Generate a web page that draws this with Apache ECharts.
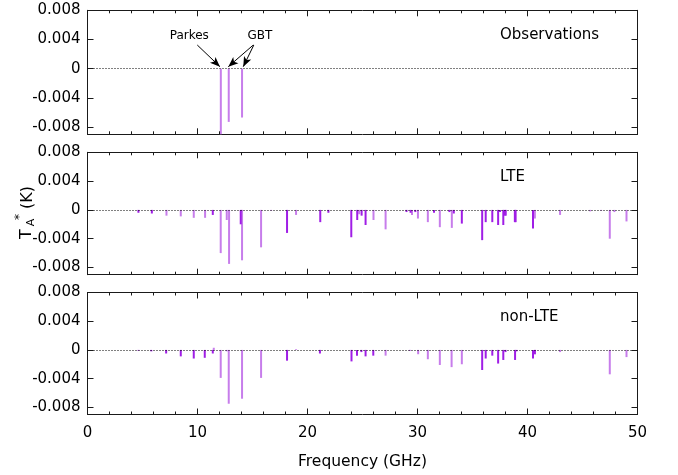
<!DOCTYPE html>
<html>
<head>
<meta charset="utf-8">
<script src="https://cdn.jsdelivr.net/npm/echarts@6/dist/echarts.min.js"></script>
<style>html,body{margin:0;padding:0;background:#fff}#c{width:678px;height:475px}</style>
</head>
<body>
<div id="c"></div>
<script>
// ---- data: [frequency (GHz), T_A* (K)] ----
var obsLines = [[12.12, -0.0095], [12.84, -0.0073], [14.05, -0.0067]];

var lteLight = [[7.18,-0.0008],[8.48,-0.0009],[9.66,-0.0011],[10.69,-0.0011],[12.11,-0.0060],[12.66,-0.0014],
  [12.87,-0.0075],[14.05,-0.0070],[15.78,-0.0052],[16.7,-0.0001],[18.96,-0.0007],[24.7,-0.0006],[26.0,-0.0014],
  [27.1,-0.0027],[29.5,-0.0007],[30.04,-0.0012],[30.94,-0.0017],[32.03,-0.0024],[33.12,-0.0025],[40.67,-0.0012],
  [42.96,-0.0007],[45.7,-0.0002],[46.7,-0.0001],[47.48,-0.0040],[47.9,-0.0003],[49.0,-0.0016]];
var lteDark = [[4.63,-0.0004],[5.85,-0.0005],[11.39,-0.0007],[13.93,-0.0020],[18.14,-0.0032],[21.16,-0.0017],
  [21.9,-0.0004],[23.98,-0.0038],[24.52,-0.0014],[24.92,-0.0008],[25.28,-0.0021],[29.0,-0.0003],[29.37,-0.0004],
  [29.8,-0.0003],[31.5,-0.0004],[32.9,-0.0003],[33.3,-0.0005],[34.03,-0.0019],[35.88,-0.0042],[36.2,-0.0017],
  [36.8,-0.0017],[37.33,-0.0021],[37.5,-0.0003],[37.8,-0.0021],[37.92,-0.0008],[38.02,-0.0008],[38.85,-0.0017],
  [38.92,-0.0017],[40.5,-0.0026]];

var nlteLight = [[11.48,0.0003],[12.11,-0.0039],[12.66,-0.0002],[12.84,-0.0075],[14.05,-0.0068],[15.78,-0.0039],
  [18.96,0.0001],[27.1,-0.0008],[30.06,-0.0006],[30.94,-0.0013],[32.03,-0.0021],[33.1,-0.0024],[34.03,-0.0020],
  [40.67,-0.0006],[42.96,-0.0003],[47.48,-0.0034],[49.0,-0.0010]];
var nlteDark = [[4.63,-0.0001],[5.8,-0.0002],[7.15,-0.0005],[8.48,-0.0009],[9.66,-0.0012],[10.66,-0.0011],
  [11.39,-0.0005],[18.14,-0.0015],[21.13,-0.0005],[24.0,-0.0016],[24.5,-0.0008],[24.9,-0.0003],[25.28,-0.0009],
  [25.98,-0.0008],[29.3,-0.0001],[35.88,-0.0028],[36.2,-0.0012],[36.8,-0.0008],[37.33,-0.0019],[37.8,-0.0014],
  [38.0,-0.0003],[38.87,-0.0014],[39.0,-0.0002],[40.5,-0.0012],[40.67,-0.0006]];

// axes and tick values
var X_MIN = 0, X_MAX = 50, Y_MIN = -0.009, Y_MAX = 0.008;
var xMajorTicks = [0, 10, 20, 30, 40, 50];
var xMinorTicks = [2, 4, 6, 8, 12, 14, 16, 18, 22, 24, 26, 28, 32, 34, 36, 38, 42, 44, 46, 48];
var yTicks = [-0.008, -0.004, 0, 0.004, 0.008];
var xTickStep = 10;
var panelNames = ['Observations', 'LTE', 'non-LTE'];
// annotation arrows: [start, end] in data coordinates of panel 1
var arrows = [[[9.98, 0.00324], [12.04, 0.00027]],
              [[15.07, 0.00324], [12.80, 0.00027]],
              [[15.12, 0.00324], [14.16, 0.00027]]];

var LIGHT = '#c77deb', DARK = '#a01ee6', AX = '#1a1a1a';
var FONT = 'DejaVu Sans';
var HIDDEN_SPLIT = {show: true, lineStyle: {color: '#000', opacity: 0}};
var PLOT_LEFT = 87.5, PLOT_RIGHT = 40.5, PLOT_WIDTH = 678 - 87.5 - 40.5;

var panelRects = [
  {top: 10.3, height: 124},
  {top: 152.3, height: 122.4},
  {top: 292.5, height: 122}
];

// each panel uses two overlapping grids: one for bottom/left axes, one for top/right axes
var grids = [], xAxes = [], yAxes = [];
panelRects.forEach(function (r, i) {
  [0, 1].forEach(function (j) {
    var gi = i * 2 + j;
    grids.push({left: PLOT_LEFT, right: PLOT_RIGHT, top: r.top, height: r.height, containLabel: false, outerBoundsMode: 'none'});
    var showX = (i === 2 && j === 0);
    xAxes.push({
      type: 'value', gridIndex: gi, position: j === 0 ? 'bottom' : 'top', min: X_MIN, max: X_MAX, interval: xTickStep,
      axisLine: {show: true, onZero: false, lineStyle: {color: AX, width: 1}},
      axisTick: {show: false}, minorTick: {show: false},
      splitLine: HIDDEN_SPLIT,
      axisLabel: {show: showX, margin: 11, color: '#000', fontSize: 15, fontFamily: FONT},
      name: showX ? 'Frequency (GHz)' : '',
      nameLocation: 'middle', nameGap: 39,
      nameTextStyle: {color: '#000', fontSize: 15.5, fontFamily: FONT}
    });
    yAxes.push({
      type: 'value', gridIndex: gi, position: j === 0 ? 'left' : 'right', min: Y_MIN, max: Y_MAX,
      axisLine: {show: true, onZero: false, lineStyle: {color: AX, width: 1}},
      axisTick: {show: false},
      splitLine: HIDDEN_SPLIT,
      axisLabel: {show: j === 0, customValues: yTicks, margin: 7, color: '#000', fontSize: 15, fontFamily: FONT,
        formatter: function (v) { return Math.abs(v) < 1e-12 ? '0' : (v < 0 ? '-' : '') + Math.abs(v).toFixed(3); }}
    });
  });
});

// inward ticks on all four sides as axis-scale segments
function tickMarkLines(panel) {
  var h = panelRects[panel].height;
  var perPxY = (Y_MAX - Y_MIN) / h, perPxX = (X_MAX - X_MIN) / PLOT_WIDTH;
  var segs = [];
  function xt(v, len) {
    segs.push([{coord: [v, Y_MIN]}, {coord: [v, Y_MIN + len * perPxY]}]);
    segs.push([{coord: [v, Y_MAX]}, {coord: [v, Y_MAX - len * perPxY]}]);
  }
  xMajorTicks.forEach(function (v) { xt(v, 6); });
  xMinorTicks.forEach(function (v) { xt(v, 3); });
  yTicks.forEach(function (v) {
    segs.push([{coord: [X_MIN, v]}, {coord: [X_MIN + 6 * perPxX, v]}]);
    segs.push([{coord: [X_MAX, v]}, {coord: [X_MAX - 6 * perPxX, v]}]);
  });
  return {
    type: 'scatter', xAxisIndex: panel * 2, yAxisIndex: panel * 2, data: [], silent: true, clip: false,
    markLine: {silent: true, symbol: 'none', label: {show: false}, animation: false, precision: 6,
      lineStyle: {type: 'solid', color: AX, width: 1}, data: segs}
  };
}

function bars(data, color, panel) {
  return {
    type: 'bar', xAxisIndex: panel * 2, yAxisIndex: panel * 2, data: data, barWidth: 2, barGap: '-100%',
    itemStyle: {color: color}, silent: true, clip: true, animation: false
  };
}
var zeroLine = {silent: true, symbol: 'none', label: {show: false},
  lineStyle: {type: [1, 2], color: '#000', width: 1}, data: [{yAxis: 0}], animation: false};

var series = [];
var s0 = bars(obsLines, LIGHT, 0); s0.markLine = zeroLine; series.push(s0);
series.push({
  type: 'scatter', xAxisIndex: 0, yAxisIndex: 0, data: [], silent: true,
  markLine: {silent: true, symbol: ['none', 'arrow'], symbolSize: [6, 10], label: {show: false}, animation: false,
    lineStyle: {type: 'solid', color: '#000', width: 1},
    data: arrows.map(function (a) { return [{coord: a[0]}, {coord: a[1]}]; })}
});
var s1 = bars(lteLight, LIGHT, 1); s1.markLine = zeroLine; series.push(s1);
series.push(bars(lteDark, DARK, 1));
var s2 = bars(nlteLight, LIGHT, 2); s2.markLine = zeroLine; series.push(s2);
series.push(bars(nlteDark, DARK, 2));
for (var p = 0; p < 3; p++) { series.push(tickMarkLines(p)); }

var titleY = [35, 177, 317];
var graphic = panelNames.map(function (n, k) {
  return {type: 'text', x: 500, y: titleY[k], silent: true,
    style: {text: n, fill: '#000', font: '15px "DejaVu Sans"', align: 'left', verticalAlign: 'middle'}};
});
graphic.push({type: 'text', x: 189.3, y: 36, silent: true,
  style: {text: 'Parkes', fill: '#000', font: '12px "DejaVu Sans"', align: 'center', verticalAlign: 'middle'}});
graphic.push({type: 'text', x: 260, y: 36, silent: true,
  style: {text: 'GBT', fill: '#000', font: '12px "DejaVu Sans"', align: 'center', verticalAlign: 'middle'}});
graphic.push({
  type: 'group', x: 34, y: 214, rotation: Math.PI / 2, silent: true,
  children: [
    {type: 'text', x: -20, y: -7, style: {text: 'T', fill: '#000', font: '16px "DejaVu Sans"', align: 'center', verticalAlign: 'middle'}},
    {type: 'text', x: -8.5, y: -3, style: {text: 'A', fill: '#000', font: '11px "DejaVu Sans"', align: 'center', verticalAlign: 'middle'}},
    {type: 'text', x: -3, y: -14, style: {text: '*', fill: '#000', font: '12px "DejaVu Sans"', align: 'center', verticalAlign: 'middle'}},
    {type: 'text', x: 16.5, y: -6.5, style: {text: '(K)', fill: '#000', font: '16px "DejaVu Sans"', align: 'center', verticalAlign: 'middle'}}
  ]
});

var chart = echarts.init(document.getElementById('c'), null, {renderer: 'canvas'});
chart.setOption({
  animation: false,
  backgroundColor: '#fff',
  textStyle: {fontFamily: FONT},
  grid: grids, xAxis: xAxes, yAxis: yAxes, series: series, graphic: graphic
});
</script>
</body>
</html>
